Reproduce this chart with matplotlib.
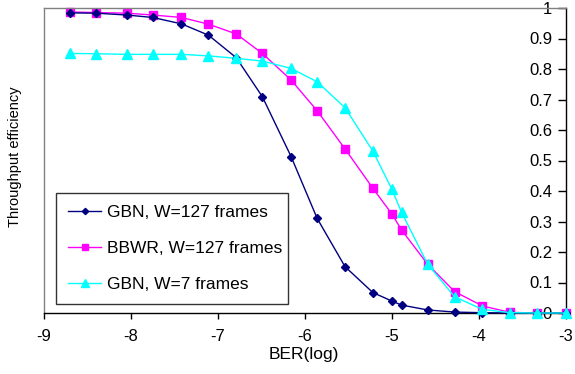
import matplotlib
matplotlib.use("Agg")
import matplotlib.pyplot as plt

plt.rcParams['font.family'] = ['Liberation Sans', 'DejaVu Sans']
plt.rcParams['axes.unicode_minus'] = False

ber_log = [-8.70, -8.40, -8.05, -7.75, -7.42, -7.11, -6.79, -6.49, -6.16, -5.86,
           -5.54, -5.22, -5.00, -4.89, -4.59, -4.28, -3.96, -3.64, -3.33, -3.00]

gbn_127 = [0.984, 0.983, 0.977, 0.969, 0.948, 0.911, 0.837, 0.709, 0.513, 0.310,
           0.152, 0.067, 0.039, 0.026, 0.010, 0.003, 0.001, 0.000, 0.000, 0.000]

bbwr_127 = [0.987, 0.985, 0.983, 0.977, 0.969, 0.947, 0.915, 0.851, 0.764, 0.663,
            0.538, 0.409, 0.324, 0.272, 0.160, 0.070, 0.023, 0.002, 0.000, 0.000]

gbn_7 = [0.851, 0.850, 0.848, 0.848, 0.848, 0.843, 0.835, 0.826, 0.802, 0.758,
         0.673, 0.531, 0.405, 0.330, 0.160, 0.053, 0.012, 0.001, 0.000, 0.000]

labels = ["GBN, W=127 frames", "BBWR, W=127 frames", "GBN, W=7 frames"]
x_ticks = [-9, -8, -7, -6, -5, -4, -3]
x_tick_labels = ["-9", "-8", "-7", "-6", "-5", "-4", "-3"]
y_ticks = [0, 0.1, 0.2, 0.3, 0.4, 0.5, 0.6, 0.7, 0.8, 0.9, 1]
y_tick_labels = ["0", "0.1", "0.2", "0.3", "0.4", "0.5", "0.6", "0.7", "0.8", "0.9", "1"]

fig = plt.figure(figsize=(5.75, 3.74), dpi=100)
ax = fig.add_axes([44/575, 1-313/374, (566-44)/575, (313-8)/374])

ax.plot(ber_log, gbn_127, color='#000080', marker='D', markersize=4, lw=1.0,
        label=labels[0], clip_on=False, zorder=3)
ax.plot(ber_log, bbwr_127, color='#FF00FF', marker='s', markersize=5.5, lw=1.0,
        label=labels[1], clip_on=False, zorder=2)
ax.plot(ber_log, gbn_7, color='#00FFFF', marker='^', markersize=6.5, lw=1.0,
        label=labels[2], clip_on=False, zorder=4)

ax.set_xlim(-9, -3)
ax.set_ylim(0, 1)
ax.set_xticks(x_ticks)
ax.set_xticklabels(x_tick_labels, fontsize=12)
ax.set_yticks(y_ticks)
ax.set_yticklabels(y_tick_labels, fontsize=12)

ax.tick_params(axis='x', direction='out', length=4, width=1, pad=7.5)
ax.yaxis.set_ticks_position('right')
ax.tick_params(axis='y', direction='in', length=6, width=1, pad=-10,
               labelright=True, labelleft=False)
for t in ax.yaxis.get_major_ticks():
    t.label2.set_horizontalalignment('right')

for s in ['left', 'top']:
    ax.spines[s].set_color('#808080')
    ax.spines[s].set_linewidth(1)
for s in ['right', 'bottom']:
    ax.spines[s].set_color('black')
    ax.spines[s].set_linewidth(1)

fig.text(304/575, 1-354/374, "BER(log)", fontsize=12.5, ha='center', va='center')
fig.text(15/575, 1-157/374, "Throughput efficiency", fontsize=10.5, rotation=90,
         ha='center', va='center')

leg = ax.legend(loc='upper left', bbox_to_anchor=((56-44)/522, (313-193)/305,
                (288-56)/522, 0), mode='expand', borderaxespad=0,
                fontsize=12.5, frameon=True, fancybox=False, edgecolor='black',
                borderpad=0.7, labelspacing=1.2, handlelength=1.9, handletextpad=0.35,
                markerscale=0.8)
leg.get_frame().set_linewidth(1)

fig.savefig("out.png", dpi=100)
